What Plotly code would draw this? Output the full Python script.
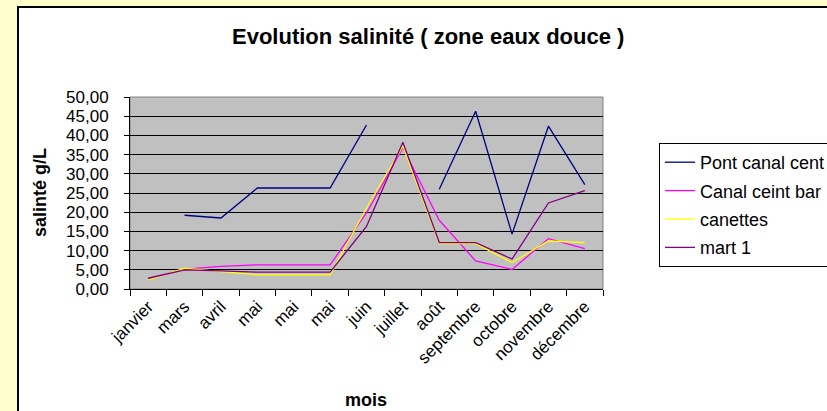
import plotly.graph_objects as go

months = ["janvier", "mars", "avril", "mai", "mai", "mai", "juin", "juillet",
          "août", "septembre", "octobre", "novembre", "décembre"]

pont_canal_cent = [None, 19.2, 18.5, 26.3, 26.3, 26.3, 42.7, None, 26.0, 46.3, 14.3, 42.4, 27.2]
canal_ceint_bar = [2.7, 5.2, 5.9, 6.3, 6.3, 6.3, 19.8, 36.8, 17.9, 7.3, 5.1, 13.1, 10.5]
canettes = [2.4, 5.4, 4.5, 3.7, 3.7, 3.7, 21.1, 37.2, 11.8, 11.8, 6.9, 12.5, 12.1]
mart_1 = [2.8, 5.0, 4.7, 4.4, 4.4, 4.4, 16.3, 38.2, 12.1, 12.1, 7.8, 22.4, 25.6]

series = [
    ("Pont canal cent", pont_canal_cent, "#000080"),
    ("Canal ceint bar", canal_ceint_bar, "#FF00FF"),
    ("canettes", canettes, "#FFFF00"),
    ("mart 1", mart_1, "#800080"),
]

FONT = "Arial, Liberation Sans, sans-serif"
xs = list(range(len(months)))

fig = go.Figure()
for name, vals, col in series:
    fig.add_trace(go.Scatter(x=xs, y=vals, mode="lines", name=name, legendgroup=name,
                             line=dict(color=col, width=1.3), connectgaps=False))

W, H = 827, 411
L, R, T, B = 130, 224, 97, 122
pw, ph = W - L - R, H - T - B

def px_x(p):
    return (p - L) / pw

def px_y(p):
    return (H - B - p) / ph

fig.update_layout(
    width=W, height=H,
    margin=dict(l=L, r=R, t=T, b=B, autoexpand=False),
    paper_bgcolor="#FFFFCC",
    plot_bgcolor="#C0C0C0",
    separators=", ",
    font=dict(family=FONT, color="black", size=17),
    showlegend=True,
    legend=dict(x=px_x(659), y=px_y(143), xanchor="left", yanchor="top",
                bordercolor="black", borderwidth=1, bgcolor="white",
                font=dict(family=FONT, size=18, color="black"),
                tracegroupgap=2),
    xaxis=dict(range=[-0.5, len(months) - 0.5], tickvals=xs, ticktext=months,
               tickangle=-45, ticks="", showgrid=False, zeroline=False,
               showline=True, linecolor="black", linewidth=1,
               tickfont=dict(size=17),
               minor=dict(tickvals=[i - 0.5 for i in range(len(months) + 1)],
                          ticks="outside", ticklen=6, tickcolor="black",
                          showgrid=False)),
    yaxis=dict(range=[0, 50], dtick=5, tickformat=".2f", ticks="outside",
               ticklen=5, tickcolor="black", showgrid=True, gridcolor="black",
               gridwidth=1, zeroline=False, showline=True, linecolor="black",
               linewidth=1, tickfont=dict(size=17), ticklabelstandoff=12),
    shapes=[
        dict(type="rect", xref="paper", yref="paper", x0=px_x(18), x1=px_x(900),
             y0=px_y(480), y1=px_y(7), fillcolor="white",
             line=dict(color="black", width=2), layer="below"),
        dict(type="rect", xref="paper", yref="paper", x0=0, x1=1, y0=0, y1=1,
             fillcolor="#C0C0C0", line=dict(color="#808080", width=1), layer="below"),
    ],
    annotations=[
        dict(text="<b>Evolution salinité ( zone eaux douce )</b>", xref="paper", yref="paper",
             x=px_x(428), y=px_y(36), showarrow=False, xanchor="center", yanchor="middle",
             font=dict(size=22, family=FONT)),
        dict(text="<b>salinté g/L</b>", xref="paper", yref="paper",
             x=px_x(40), y=px_y(193), showarrow=False, textangle=-90,
             xanchor="center", yanchor="middle", font=dict(size=18, family=FONT)),
        dict(text="<b>mois</b>", xref="paper", yref="paper",
             x=px_x(366), y=px_y(400), showarrow=False,
             xanchor="center", yanchor="middle", font=dict(size=18, family=FONT)),
    ],
)

fig.write_html("out.html", config={"displayModeBar": False},
               post_script="document.body.style.margin='0';document.body.style.padding='0';")
